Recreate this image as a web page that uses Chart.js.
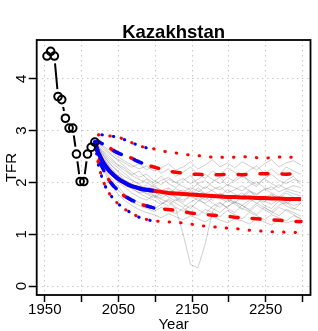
<!DOCTYPE html>
<html>
<head>
<meta charset="utf-8">
<script src="https://cdn.jsdelivr.net/npm/chart.js@4/dist/chart.umd.min.js"></script>
<style>
  html, body { margin: 0; padding: 0; background: #fff; }
  #wrap { width: 318px; height: 331px; }
</style>
</head>
<body>
<div id="wrap"><canvas id="myChart"></canvas></div>
<script>
// observed TFR (5-year periods, mid-years)
const obsYears = [1953, 1958, 1963, 1968, 1973, 1978, 1983, 1988, 1993, 1998, 2003, 2008, 2013, 2018]
const obsTfr = [4.44, 4.53, 4.44, 3.66, 3.60, 3.24, 3.05, 3.05, 2.55, 2.02, 2.02, 2.55, 2.68, 2.78]

// projection quantiles (red goes to 2300, blue only to 2100)
const projYears = [2018, 2023, 2028, 2033, 2038, 2043, 2048, 2053, 2058, 2063, 2068, 2073, 2078, 2083, 2088, 2093, 2098,
  2108, 2118, 2128, 2138, 2148, 2158, 2168, 2178, 2188, 2198, 2208, 2218, 2228, 2238, 2248, 2258, 2268, 2278, 2288, 2298]
const median = [2.78, 2.56, 2.42, 2.31, 2.22, 2.15, 2.09, 2.04, 2.00, 1.96, 1.93, 1.91, 1.89, 1.87, 1.86, 1.85, 1.84,
  1.82, 1.80, 1.79, 1.78, 1.77, 1.76, 1.75, 1.74, 1.73, 1.72, 1.72, 1.71, 1.71, 1.70, 1.70, 1.69, 1.69, 1.68, 1.68, 1.68]
const upper80 = [2.78, 2.79, 2.75, 2.72, 2.67, 2.62, 2.58, 2.55, 2.52, 2.50, 2.47, 2.43, 2.40, 2.37, 2.34, 2.32, 2.30,
  2.26, 2.22, 2.20, 2.18, 2.16, 2.16, 2.15, 2.15, 2.15, 2.16, 2.16, 2.15, 2.16, 2.17, 2.17, 2.17, 2.17, 2.16, 2.17, 2.16]
const lower80 = [2.78, 2.47, 2.30, 2.14, 2.03, 1.94, 1.87, 1.80, 1.74, 1.70, 1.66, 1.63, 1.59, 1.57, 1.55, 1.53, 1.51,
  1.49, 1.48, 1.46, 1.44, 1.41, 1.40, 1.38, 1.37, 1.36, 1.35, 1.33, 1.32, 1.31, 1.30, 1.29, 1.28, 1.27, 1.26, 1.25, 1.25]
const upper95 = [2.78, 2.92, 2.92, 2.91, 2.90, 2.89, 2.87, 2.86, 2.83, 2.80, 2.77, 2.74, 2.71, 2.69, 2.67, 2.66, 2.65,
  2.61, 2.59, 2.57, 2.55, 2.53, 2.52, 2.50, 2.49, 2.49, 2.48, 2.49, 2.50, 2.49, 2.48, 2.47, 2.48, 2.49, 2.50, 2.48, 2.47]
const lower95 = [2.78, 2.32, 2.08, 1.90, 1.78, 1.69, 1.61, 1.55, 1.49, 1.45, 1.41, 1.37, 1.33, 1.31, 1.29, 1.27, 1.26,
  1.25, 1.24, 1.23, 1.22, 1.20, 1.17, 1.16, 1.15, 1.13, 1.12, 1.11, 1.10, 1.08, 1.07, 1.06, 1.05, 1.05, 1.04, 1.04, 1.03]
const blueEnd = 17 // blue lines stop at 2098

// a handful of trajectories (gray)
const trajYears = [2018, 2028, 2038, 2048, 2058, 2068, 2078, 2088, 2098, 2108, 2118, 2128, 2138, 2148, 2158,
  2168, 2178, 2188, 2198, 2208, 2218, 2228, 2238, 2248, 2258, 2268, 2278, 2288, 2298]
const trajectories = [
  [2.78, 2.55, 2.38, 2.22, 2.05, 1.98, 1.86, 1.95, 1.82, 1.74, 1.88, 1.70, 1.62, 1.75, 1.90, 1.78, 1.66, 1.80, 1.72, 1.60, 1.74, 1.85, 1.70, 1.62, 1.76, 1.68, 1.80, 1.72, 1.65],
  [2.78, 2.45, 2.20, 2.02, 1.92, 1.80, 1.72, 1.66, 1.75, 1.62, 1.55, 1.68, 1.58, 1.50, 1.64, 1.72, 1.60, 1.52, 1.66, 1.58, 1.48, 1.62, 1.70, 1.56, 1.50, 1.64, 1.55, 1.48, 1.60],
  [2.78, 2.62, 2.50, 2.36, 2.28, 2.15, 2.22, 2.08, 2.00, 2.12, 1.98, 1.90, 2.04, 2.14, 1.96, 1.88, 2.02, 2.10, 1.94, 2.06, 2.18, 2.00, 1.92, 2.08, 1.98, 1.90, 2.04, 2.12, 1.96],
  [2.78, 2.38, 2.12, 1.95, 1.78, 1.70, 1.62, 1.55, 1.48, 1.58, 1.66, 1.52, 1.45, 1.56, 1.48, 1.40, 1.54, 1.62, 1.50, 1.42, 1.56, 1.46, 1.38, 1.52, 1.44, 1.36, 1.48, 1.42, 1.35],
  [2.78, 2.58, 2.42, 2.30, 2.18, 2.06, 1.96, 1.88, 1.94, 1.84, 1.90, 1.80, 1.86, 1.76, 1.82, 1.92, 1.84, 1.74, 1.86, 1.78, 1.70, 1.82, 1.76, 1.88, 1.80, 1.72, 1.84, 1.78, 1.74],
  [2.78, 2.50, 2.30, 2.12, 2.02, 1.92, 1.85, 1.78, 1.70, 1.80, 1.72, 1.64, 1.76, 1.84, 1.74, 1.66, 1.78, 1.70, 1.62, 1.72, 1.80, 1.68, 1.60, 1.70, 1.78, 1.66, 1.58, 1.68, 1.62],
  [2.78, 2.66, 2.55, 2.46, 2.38, 2.30, 2.36, 2.25, 2.30, 2.18, 2.26, 2.12, 2.20, 2.30, 2.16, 2.08, 2.22, 2.14, 2.28, 2.20, 2.10, 2.24, 2.32, 2.18, 2.26, 2.14, 2.30, 2.22, 2.16],
  [2.78, 2.42, 2.25, 2.08, 1.96, 1.88, 1.80, 1.72, 1.66, 1.58, 1.68, 1.60, 1.52, 1.62, 1.70, 1.58, 1.50, 1.42, 1.54, 1.62, 1.50, 1.44, 1.56, 1.48, 1.40, 1.52, 1.46, 1.38, 1.30],
  [2.78, 2.52, 2.32, 2.16, 2.04, 1.94, 1.86, 1.80, 1.74, 1.68, 1.62, 1.50, 1.00, 0.42, 0.35, 0.82, 1.45, 1.60, 1.52, 1.64, 1.56, 1.48, 1.60, 1.52, 1.44, 1.56, 1.62, 1.50, 1.46],
  [2.78, 2.70, 2.58, 2.44, 2.32, 2.20, 2.10, 2.16, 2.04, 1.96, 2.06, 2.00, 1.92, 1.86, 1.98, 2.04, 1.92, 1.86, 1.96, 1.90, 1.84, 1.94, 2.02, 1.90, 1.86, 1.96, 1.88, 1.94, 1.90],
  [2.78, 2.35, 2.05, 1.88, 1.74, 1.62, 1.56, 1.50, 1.44, 1.52, 1.46, 1.40, 1.50, 1.44, 1.36, 1.48, 1.42, 1.34, 1.46, 1.38, 1.30, 1.42, 1.36, 1.28, 1.38, 1.32, 1.26, 1.36, 1.30],
  [2.78, 2.56, 2.36, 2.24, 2.12, 2.04, 1.98, 2.06, 1.96, 2.04, 2.10, 2.00, 2.08, 1.98, 2.06, 2.16, 2.06, 1.98, 2.10, 2.02, 2.12, 2.04, 1.96, 2.08, 2.16, 2.04, 1.98, 2.06, 2.02],
  [2.78, 2.48, 2.28, 2.14, 2.00, 1.90, 1.80, 1.84, 1.76, 1.70, 1.78, 1.72, 1.66, 1.74, 1.66, 1.60, 1.70, 1.78, 1.68, 1.62, 1.56, 1.66, 1.74, 1.64, 1.58, 1.68, 1.62, 1.56, 1.60],
  [2.78, 2.60, 2.46, 2.34, 2.24, 2.14, 2.06, 2.00, 1.92, 1.86, 1.80, 1.88, 1.82, 1.90, 1.84, 1.78, 1.86, 1.92, 1.80, 1.86, 1.94, 1.84, 1.78, 1.86, 1.92, 1.82, 1.88, 1.84, 1.80],
  [2.78, 2.72, 2.62, 2.50, 2.42, 2.34, 2.26, 2.32, 2.22, 2.28, 2.36, 2.24, 2.30, 2.40, 2.26, 2.34, 2.44, 2.30, 2.38, 2.28, 2.40, 2.32, 2.24, 2.36, 2.44, 2.30, 2.38, 2.42, 2.34],
  [2.78, 2.30, 1.98, 1.80, 1.66, 1.56, 1.48, 1.42, 1.38, 1.32, 1.40, 1.34, 1.28, 1.36, 1.30, 1.24, 1.34, 1.28, 1.22, 1.30, 1.26, 1.20, 1.30, 1.24, 1.18, 1.28, 1.22, 1.26, 1.20],
]

const xTicks = [1950, 2000, 2050, 2100, 2150, 2200, 2250, 2300]
const xLabelled = [1950, 2050, 2150, 2250]
const yTicks = [0, 1, 2, 3, 4]

const pts = (xs, ys) => ys.map((y, i) => ({ x: xs[i], y: y }))

Chart.defaults.font.family = '"Liberation Sans", Arial, Helvetica, sans-serif'
Chart.defaults.color = '#000'

const RED = '#ff0000'
const BLUE = '#0000ff'

function qLine(label, xs, ys, color, kind, order, offset) {
  const ds = {
    label: label,
    data: pts(xs, ys),
    borderColor: color,
    pointRadius: 0,
    tension: 0,
    order: order,
    borderCapStyle: 'round',
    borderDashOffset: offset || 0,
  }
  if (kind === 'solid') { ds.borderWidth = 4; ds.borderCapStyle = 'butt' }
  if (kind === 'dashed') { ds.borderWidth = 3.5; ds.borderDash = [8, 14] }
  if (kind === 'dotted') { ds.borderWidth = 3; ds.borderDash = [0.5, 11] }
  return ds
}

const datasets = []

// observed line, white discs make the gaps around points like R type="b"
datasets.push({
  label: 'observed line',
  data: pts(obsYears, obsTfr),
  borderColor: '#000',
  borderWidth: 2,
  pointRadius: 7.5,
  pointBorderWidth: 0,
  pointBackgroundColor: '#fff',
  tension: 0,
  order: 20,
})

trajectories.forEach((t, i) => {
  datasets.push({
    label: 'traj' + i,
    data: pts(trajYears, t),
    borderColor: 'rgba(110,110,110,0.33)',
    borderWidth: 1,
    pointRadius: 0,
    tension: 0,
    order: 10,
  })
})

datasets.push(qLine('red median', projYears, median, RED, 'solid', 5))
datasets.push(qLine('red u80', projYears, upper80, RED, 'dashed', 5, 4))
datasets.push(qLine('red l80', projYears, lower80, RED, 'dashed', 5, 4))
datasets.push(qLine('red u95', projYears, upper95, RED, 'dotted', 5, 3.5))
datasets.push(qLine('red l95', projYears, lower95, RED, 'dotted', 5, 3.5))

const by = projYears.slice(0, blueEnd)
datasets.push(qLine('blue median', by, median.slice(0, blueEnd), BLUE, 'solid', 3))
datasets.push(qLine('blue u80', by, upper80.slice(0, blueEnd), BLUE, 'dashed', 3))
datasets.push(qLine('blue l80', by, lower80.slice(0, blueEnd), BLUE, 'dashed', 3))
datasets.push(qLine('blue u95', by, upper95.slice(0, blueEnd), BLUE, 'dotted', 3))
datasets.push(qLine('blue l95', by, lower95.slice(0, blueEnd), BLUE, 'dotted', 3))

// open circles on top
datasets.push({
  label: 'observed',
  data: pts(obsYears, obsTfr),
  showLine: false,
  pointRadius: 3.8,
  pointBorderWidth: 2,
  pointBorderColor: '#000',
  pointBackgroundColor: 'rgba(0,0,0,0)',
  order: 0,
})

const frame = {
  id: 'frame',
  afterDraw(chart) {
    const { ctx, chartArea: a } = chart
    const cx = (a.left + a.right) / 2
    ctx.save()
    ctx.strokeStyle = '#000'
    ctx.lineWidth = 1.8
    ctx.strokeRect(a.left, a.top, a.right - a.left, a.bottom - a.top)
    ctx.fillStyle = '#000'
    ctx.textAlign = 'center'
    ctx.textBaseline = 'alphabetic'
    ctx.font = 'bold 18.5px "Liberation Sans", Arial, sans-serif'
    ctx.fillText('Kazakhstan', cx, 37.5)
    ctx.font = '15px "Liberation Sans", Arial, sans-serif'
    ctx.fillText('Year', cx, 329)
    ctx.translate(16.3, (a.top + a.bottom) / 2)
    ctx.rotate(-Math.PI / 2)
    ctx.fillText('TFR', 0, 0)
    ctx.restore()
  },
}

new Chart(document.getElementById('myChart').getContext('2d'), {
  type: 'line',
  data: { datasets: datasets },
  plugins: [frame],
  options: {
    responsive: true,
    maintainAspectRatio: false,
    animation: false,
    events: [],
    layout: { padding: { top: 40, right: 0.5, bottom: 0, left: 0 } },
    plugins: { legend: { display: false }, tooltip: { enabled: false }, title: { display: false } },
    scales: {
      x: {
        type: 'linear',
        min: 1939,
        max: 2311,
        afterBuildTicks: (s) => { s.ticks = xTicks.map(v => ({ value: v })) },
        afterFit: (s) => { s.height = 36 },
        ticks: {
          autoSkip: false,
          maxRotation: 0,
          padding: -1,
          font: { size: 15 },
          callback: (v) => xLabelled.includes(v) ? String(v) : '',
        },
        grid: {
          color: '#c8c8c8',
          lineWidth: 1,
          tickLength: 7,
          tickColor: '#000',
          tickWidth: 1.5,
          tickBorderDash: [],
        },
        border: { display: false, dash: [1.5, 3.5] },
      },
      y: {
        type: 'linear',
        min: -0.17,
        max: 4.75,
        afterBuildTicks: (s) => { s.ticks = yTicks.map(v => ({ value: v })) },
        afterFit: (s) => { s.width = 36.7 },
        ticks: {
          minRotation: 90,
          maxRotation: 90,
          crossAlign: 'center',
          padding: 2.2,
          font: { size: 15 },
          callback: (v) => String(v),
        },
        grid: {
          color: '#c8c8c8',
          lineWidth: 1,
          tickLength: 8,
          tickColor: '#000',
          tickWidth: 1.5,
          tickBorderDash: [],
        },
        border: { display: false, dash: [1.5, 3.5] },
      },
    },
  },
})
</script>
</body>
</html>
